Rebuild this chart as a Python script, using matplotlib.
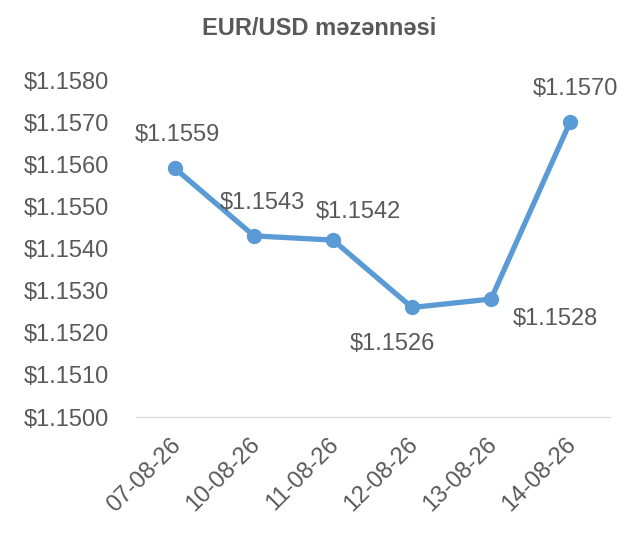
import matplotlib
matplotlib.use('Agg')
import matplotlib.pyplot as plt
import matplotlib.transforms as mtransforms

dates = ['07-08-26', '10-08-26', '11-08-26', '12-08-26', '13-08-26', '14-08-26']
rates = [1.1559, 1.1543, 1.1542, 1.1526, 1.1528, 1.1570]
yticks = [1.1500, 1.1510, 1.1520, 1.1530, 1.1540, 1.1550, 1.1560, 1.1570, 1.1580]

# label offsets in points (dx, dy)
offsets = [(2, 24), (6, 24), (18, 20), (-14, -26), (46, -14), (4, 24)]

plt.rcParams['font.family'] = ['Liberation Sans', 'DejaVu Sans']
grey = '#595959'
blue = '#5B9BD5'

fig = plt.figure(figsize=(6.38, 5.33), dpi=100)
ax = fig.add_axes([0.2124, 0.2176, 0.743, 0.6323])

x = list(range(len(dates)))
ax.plot(x, rates, '-', color=blue, lw=3.8, marker='o', ms=10, solid_capstyle='round')

for i, v in enumerate(rates):
    ax.annotate('$%.4f' % v, (i, v), xytext=offsets[i], textcoords='offset points',
                ha='center', va='center', fontsize=17, color=grey)

ax.set_xlim(-0.5, len(dates) - 0.5)
ax.set_ylim(1.1500, 1.1580)
ax.set_yticks(yticks)
ax.set_yticklabels(['$%.4f' % t for t in yticks], fontsize=17, color=grey)
ax.set_xticks(x)
ax.set_xticklabels(dates, rotation=45, ha='right', rotation_mode='anchor', fontsize=17, color=grey)
ax.tick_params(axis='y', length=0, pad=19)
ax.tick_params(axis='x', length=0, pad=12)

shift = mtransforms.ScaledTranslation(-5 / 100, 0, fig.dpi_scale_trans)
for lbl in ax.get_xticklabels():
    lbl.set_transform(lbl.get_transform() + shift)

for s in ['top', 'right', 'left']:
    ax.spines[s].set_visible(False)
ax.spines['bottom'].set_color('#D9D9D9')

fig.text(0.5, 0.947, 'EUR/USD məzənnəsi', ha='center', va='center',
         fontsize=17, fontweight='bold', color=grey)

fig.savefig('out.png')
